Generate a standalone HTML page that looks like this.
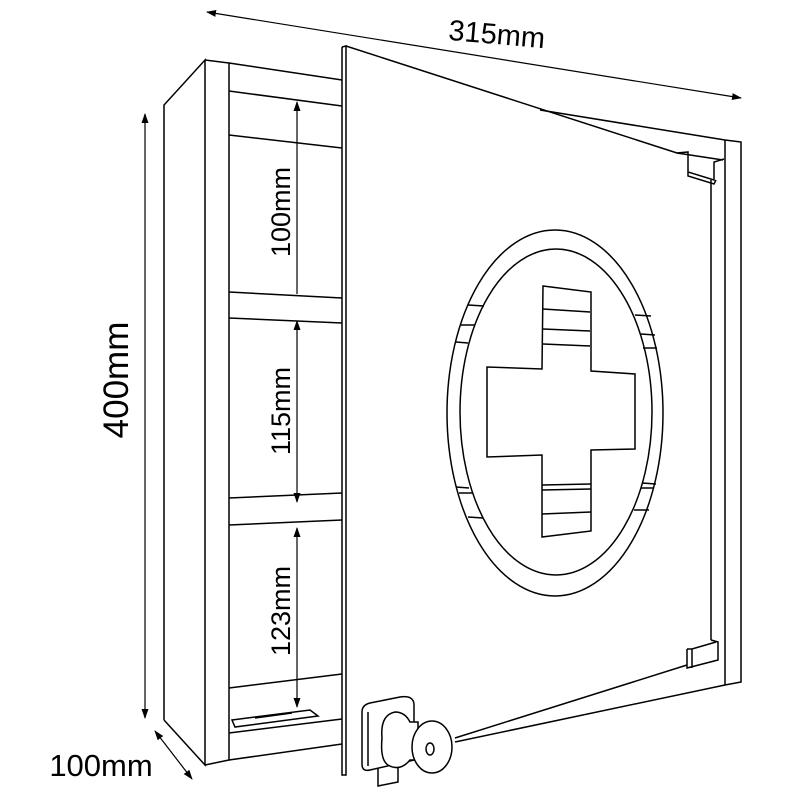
<!DOCTYPE html>
<html><head><style>body{margin:0;background:#fff}svg{display:block}</style></head>
<body>
<svg width="800" height="800" viewBox="0 0 800 800" xmlns="http://www.w3.org/2000/svg" font-family="Liberation Sans, sans-serif">
<defs><marker id="a" markerWidth="10" markerHeight="10" refX="9" refY="3.5" orient="auto" markerUnits="userSpaceOnUse"><path d="M0,0 L10,3.5 L0,7z" fill="#000"/></marker>
<marker id="b" markerWidth="10" markerHeight="10" refX="1" refY="3.5" orient="auto" markerUnits="userSpaceOnUse"><path d="M10,0 L0,3.5 L10,7z" fill="#000"/></marker></defs>
<g fill="none" stroke="#000" stroke-width="1.5">
<path d="M164,720 L164,105 L205,60 L205,765 L164,720"/>
<path d="M205,60 L229,63 L229,760 L205,765"/>
<path d="M229,63 L342,80"/>
<path d="M229,91 L342,106"/><path d="M229,135 L342,148"/>
<path d="M229,292 L342,298"/><path d="M229,318 L342,323"/>
<path d="M229,498 L342,493"/><path d="M229,525 L342,520"/>
<path d="M229,688 L342,674"/><path d="M229,733 L342,719"/><path d="M229,760 L342,744"/>
<path d="M232,720 L310,710 L318,716 L235,727z"/><path d="M255,718 L292,713"/>
<path d="M540,110 L725,140 L741,142 L741,682 L725,685"/>
<path d="M725,140 L725,685"/>
<path d="M711,180 L711,640"/>
<path d="M342,47 L346,46 L346,775 L342,775 L342,47"/>
<path d="M346,46 L677,153 L723,160"/>
<path d="M455,738 L687,665"/>
<path d="M455,742 L725,685"/>
<path d="M677,153 L688,152 L688,172 L714,180 L714,162 L724,159"/>
<path d="M688,172 L688,176 L714,184 L716,180"/>
<path d="M687,649 L687,668 L718,660 L718,642 L711,640"/>
<path d="M692,649 L692,668 M687,649 L692,649 L716,642"/>
<ellipse cx="555" cy="413" rx="108" ry="183"/>
<ellipse cx="556" cy="412" rx="96" ry="163"/>
<path d="M468,305 L484,306 M461,325 L475,325 M456,342 L468,343 M456,487 L469,488 M459,493 L473,493 M468,517 L483,518 M635,315 L651,316 M641,334 L655,335 M643,348 L657,348 M642,483 L656,484 M641,488 L654,488 M634,510 L649,510"/>
<path d="M543,286 L591,292 L591,371 L635,374 L635,449 L591,450 L591,531 L542,537 L542,455 L487,457 L487,367 L542,369z"/>
<path d="M543,309 L590,312 M543,329 L590,331 M543,344 L590,346 M542,485 L591,484 M542,490 L591,489 M542,514 L591,512"/>
<path d="M362,712 Q362,705 370,703 L400,697 Q414,695 414,705 L414,760 L370,770 Q362,772 362,764z"/>
<path d="M368,712 L368,766"/>
<path d="M378,768 L378,786 L398,782 L398,765"/>
<path d="M382,738 Q380,715 395,712 Q405,712 410,722 L418,722 L418,760 L410,760 Q400,772 388,765 Q380,760 382,738z" fill="#fff"/>
<ellipse cx="432" cy="747" rx="20" ry="26" fill="#fff"/>
<ellipse cx="430" cy="749" rx="4" ry="6"/>
<path d="M297,294 L297,102" marker-end="url(#a)" stroke-width="1.2"/>
<path d="M297,321 L297,502" marker-start="url(#b)" marker-end="url(#a)" stroke-width="1.2"/>
<path d="M297,528 L297,707" marker-start="url(#b)" marker-end="url(#a)" stroke-width="1.2"/>
<path d="M145,114 L145,718" marker-start="url(#b)" marker-end="url(#a)" stroke-width="1.2"/>
<path d="M207,12 L741,98" marker-start="url(#b)" marker-end="url(#a)" stroke-width="1.2"/>
<path d="M155,731 L192,779" marker-start="url(#b)" marker-end="url(#a)" stroke-width="1.2"/>
</g>
<g font-size="27" fill="#000" text-anchor="middle">
<text transform="translate(290,212) rotate(-90)">100mm</text>
<text transform="translate(290,411) rotate(-90)">115mm</text>
<text transform="translate(290,611) rotate(-90)">123mm</text>
<text transform="translate(128,380) rotate(-90)" font-size="35">400mm</text>
<text transform="translate(496,44) rotate(5)" font-size="29">315mm</text>
<text x="101" y="776" font-size="31">100mm</text>
</g>
</svg>
</body></html>
